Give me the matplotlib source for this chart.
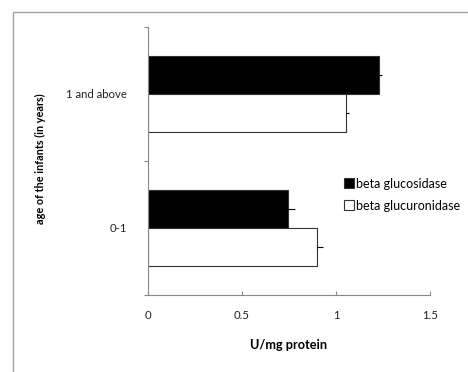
"""Actividad enzimática por grupo de edad (barras horizontales)."""
import matplotlib
matplotlib.use("Agg")
import matplotlib.pyplot as plt
from matplotlib.patches import Rectangle
import numpy as np

plt.rcParams['font.family'] = ['Lato', 'DejaVu Sans']

age_groups = ["0-1", "1 and above"]
glucosidase = [0.746, 1.229]
glucosidase_err = [0.036, 0.017]
glucuronidase = [0.897, 1.051]
glucuronidase_err = [0.035, 0.019]
x_ticks = [0, 0.5, 1, 1.5]
x_tick_labels = ["0", "0.5", "1", "1.5"]

fig = plt.figure(figsize=(4.68, 3.72), dpi=100)
fig.patches.append(Rectangle((13 / 468, -0.1), 1.2, 1.1 - 12 / 372,
                             transform=fig.transFigure, fill=False,
                             edgecolor="#a0a0a0", lw=1))
ax = fig.add_axes([148 / 468, 77 / 372, 282 / 468, 268 / 372])

y = np.arange(len(age_groups))
h = 0.28
ax.barh(y + h / 2, glucosidase, height=h, color="black", edgecolor="#333333",
        lw=0.8, label="beta glucosidase")
ax.barh(y - h / 2, glucuronidase, height=h, color="white", edgecolor="#333333",
        lw=0.8, label="beta glucuronidase")
ax.errorbar(glucosidase, y + h / 2, xerr=[[0, 0], glucosidase_err], fmt="none",
            ecolor="black", elinewidth=0.8, capsize=0)
ax.errorbar(glucuronidase, y - h / 2, xerr=[[0, 0], glucuronidase_err], fmt="none",
            ecolor="black", elinewidth=0.8, capsize=0)

ax.set_xlim(0, 1.5)
ax.set_ylim(-0.5, 1.5)
ax.set_xticks(x_ticks)
ax.set_xticklabels(x_tick_labels)
ax.set_yticks([-0.5, 0.5, 1.5])
ax.set_yticklabels([])
ax.set_yticks(y, minor=True)
ax.set_yticklabels(age_groups, minor=True)
ax.tick_params(axis="y", which="minor", length=0, pad=15, labelsize=8.2, colors="#222222")
ax.tick_params(axis="y", which="major", length=3, direction="out", color="#888888")
ax.tick_params(axis="x", length=3, direction="in", pad=11, labelsize=8.2,
               color="#888888", labelcolor="#222222")

for side in ("top", "right"):
    ax.spines[side].set_visible(False)
for side in ("left", "bottom"):
    ax.spines[side].set_color("#888888")
    ax.spines[side].set_linewidth(0.8)

ax.set_xlabel("U/mg protein", fontsize=9.2, fontweight="bold", labelpad=13)
ax.set_ylabel("age of the infants (in years)", fontsize=7.8, fontweight="bold")
ax.yaxis.set_label_coords(-0.36, 0.51)

ax.legend(loc="center left", bbox_to_anchor=(0.655, 0.375), frameon=False,
          fontsize=9, handlelength=0.8, handleheight=0.8, handletextpad=0.2,
          labelspacing=0.8)

fig.savefig("out.png", dpi=100)
